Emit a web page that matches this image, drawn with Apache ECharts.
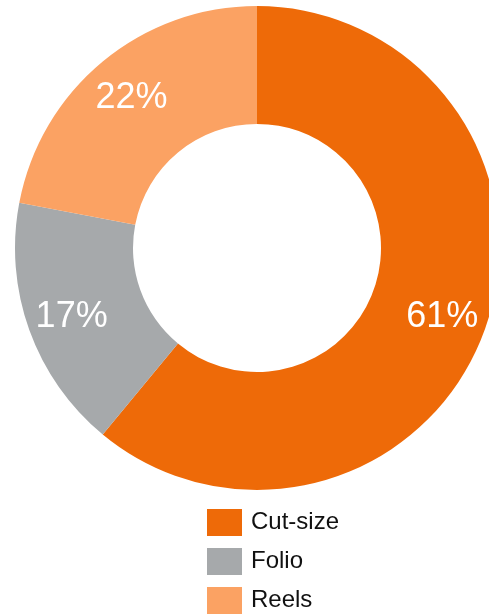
<!DOCTYPE html>
<html>
<head>
<meta charset="utf-8">
<script src="https://cdn.jsdelivr.net/npm/echarts@6/dist/echarts.min.js"></script>
<style>
  html, body { margin: 0; padding: 0; background: #fff; }
  #chart { width: 489px; height: 616px; }
</style>
</head>
<body>
<div id="chart"></div>
<script>
const categories = ['Cut-size', 'Folio', 'Reels']
const shares = [61, 17, 22]
const colors = ['#EE6A08', '#A6A9AB', '#FBA263']

const font = 'Liberation Sans, Arial, sans-serif'
const pieData = categories.map((name, i) => ({ name: name, value: shares[i] }))

const chart = echarts.init(document.getElementById('chart'))
chart.setOption({
  animation: false,
  color: colors,
  legend: {
    orient: 'vertical',
    left: 207,
    top: 509,
    height: 110,
    padding: 0,
    itemWidth: 35,
    itemHeight: 27,
    itemGap: 12,
    icon: 'rect',
    data: categories,
    textStyle: { fontFamily: font, fontSize: 24, color: '#111', padding: [0, 0, 0, 4] }
  },
  series: [{
    // the ring itself
    type: 'pie',
    center: [257, 248],
    radius: [124, 242],
    startAngle: 90,
    silent: true,
    label: { show: false },
    labelLine: { show: false },
    data: pieData
  }, {
    // transparent copy that only carries the percent labels a bit further out
    type: 'pie',
    center: [257, 250],
    radius: [146, 242],
    startAngle: 90,
    silent: true,
    itemStyle: { color: 'rgba(0,0,0,0)' },
    label: {
      show: true,
      position: 'inside',
      formatter: '{c}%',
      color: '#fff',
      fontSize: 36,
      fontFamily: font
    },
    labelLine: { show: false },
    data: pieData
  }]
})
</script>
</body>
</html>
